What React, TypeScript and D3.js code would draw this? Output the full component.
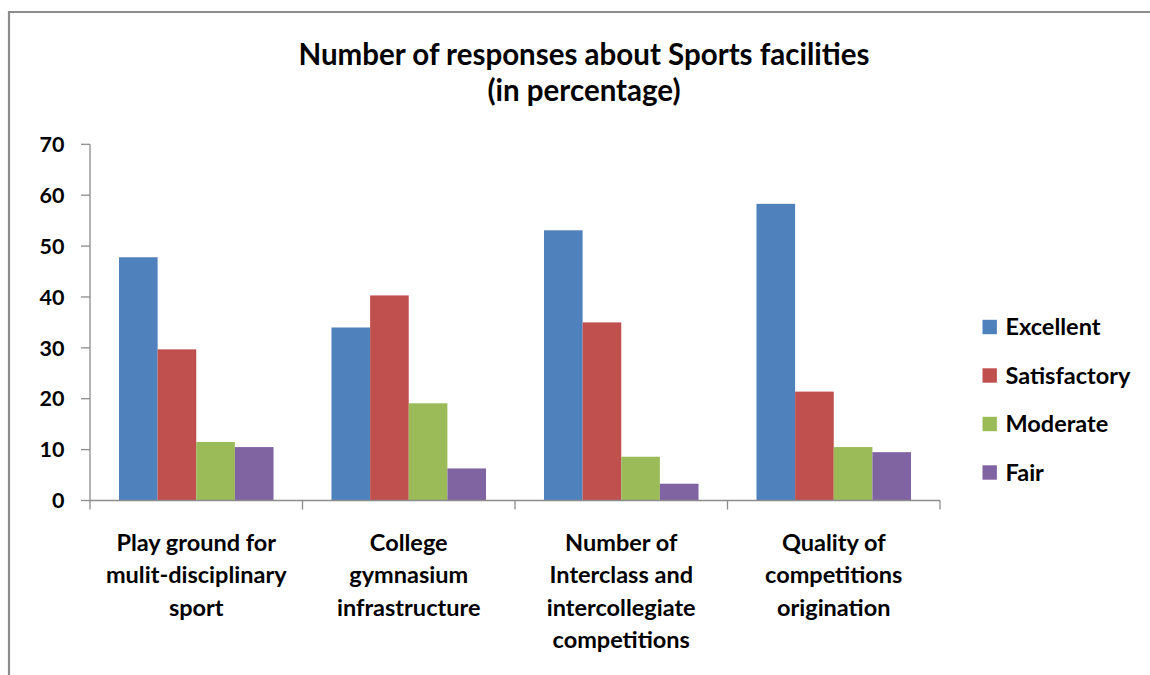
import React, { useEffect, useRef } from "react";
import * as d3 from "d3";

const categories: string[][] = [
  ["Play ground for", "mulit-disciplinary", "sport"],
  ["College", "gymnasium", "infrastructure"],
  ["Number of", "Interclass and", "intercollegiate", "competitions"],
  ["Quality of", "competitions", "origination"],
];
const seriesNames = ["Excellent", "Satisfactory", "Moderate", "Fair"];
const excellent = [47.8, 34.0, 53.1, 58.3];
const satisfactory = [29.7, 40.3, 35.0, 21.4];
const moderate = [11.5, 19.1, 8.6, 10.5];
const fair = [10.5, 6.3, 3.3, 9.5];
const seriesValues = [excellent, satisfactory, moderate, fair];
const colors = ["#4F81BD", "#C0504D", "#9BBB59", "#8064A2"];
const yTicks = [0, 10, 20, 30, 40, 50, 60, 70];
const titleLines = ["Number of responses about Sports facilities", "(in percentage)"];

const FONT = "Lato, 'Open Sans', sans-serif";

export default function App() {
  const ref = useRef<SVGSVGElement>(null);

  useEffect(() => {
    const svg = d3.select(ref.current);
    svg.selectAll("*").remove();

    const W = 1150, H = 675;
    const left = 90, right = 940, top = 144.3, bottom = 500.5;

    svg.append("rect").attr("x", 0).attr("y", 0).attr("width", W).attr("height", H).attr("fill", "#fff");
    // frame
    svg.append("path")
      .attr("d", `M9,${H + 5} L9,12 L${W + 5},12`)
      .attr("fill", "none").attr("stroke", "#8c8c8c").attr("stroke-width", 2.2);

    // title
    svg.append("g").selectAll("text").data(titleLines).join("text")
      .attr("x", 584).attr("y", (_d, i) => 65 + i * 36)
      .attr("text-anchor", "middle")
      .attr("font-family", FONT).attr("font-weight", "bold").attr("font-size", 29.5)
      .attr("fill", "#000")
      .text(d => d);

    const idx = categories.map((_c, i) => String(i));
    const x0 = d3.scaleBand<string>().domain(idx).range([left, right]).paddingInner(0).paddingOuter(0);
    const bw = x0.bandwidth();
    const gap = bw * 1.5 / 5.5;
    const x1 = d3.scaleBand<string>().domain(seriesNames).range([gap / 2, bw - gap / 2]).paddingInner(0);
    const y = d3.scaleLinear().domain([0, 70]).range([bottom, top]);

    // bars
    const groups = svg.append("g").selectAll("g").data(idx).join("g")
      .attr("transform", d => `translate(${x0(d)},0)`);
    groups.selectAll("rect")
      .data(ci => seriesNames.map((s, si) => ({ s, si, v: seriesValues[si][+ci] })))
      .join("rect")
      .attr("x", d => x1(d.s)!)
      .attr("width", x1.bandwidth())
      .attr("y", d => y(d.v))
      .attr("height", d => y(0) - y(d.v))
      .attr("fill", d => colors[d.si]);

    // y axis
    const yAxis = svg.append("g");
    yAxis.append("line").attr("x1", left).attr("x2", left).attr("y1", y(70)).attr("y2", y(0))
      .attr("stroke", "#8c8c8c").attr("stroke-width", 1.3);
    yAxis.selectAll("line.t").data(yTicks).join("line").attr("class", "t")
      .attr("x1", left - 9).attr("x2", left).attr("y1", d => y(d)).attr("y2", d => y(d))
      .attr("stroke", "#8c8c8c").attr("stroke-width", 1.3);
    yAxis.selectAll("text").data(yTicks).join("text")
      .attr("x", 64.5).attr("y", d => y(d)).attr("dy", "0.36em")
      .attr("text-anchor", "end")
      .attr("font-family", FONT).attr("font-weight", "bold").attr("font-size", 21.5)
      .attr("fill", "#000").text(d => d);

    // x axis
    const xAxis = svg.append("g");
    xAxis.append("line").attr("x1", left).attr("x2", right).attr("y1", y(0)).attr("y2", y(0))
      .attr("stroke", "#8c8c8c").attr("stroke-width", 1.3);
    const bounds = [...idx.map(d => x0(d)!), right];
    xAxis.selectAll("line.t").data(bounds).join("line").attr("class", "t")
      .attr("x1", d => d).attr("x2", d => d).attr("y1", y(0)).attr("y2", y(0) + 9)
      .attr("stroke", "#8c8c8c").attr("stroke-width", 1.3);
    const lbl = xAxis.selectAll("text").data(idx).join("text")
      .attr("text-anchor", "middle")
      .attr("font-family", FONT).attr("font-weight", "bold").attr("font-size", 23.5)
      .attr("fill", "#000");
    lbl.selectAll("tspan").data(ci => categories[+ci].map(t => ({ t, ci }))).join("tspan")
      .attr("x", d => x0(d.ci)! + bw / 2)
      .attr("y", (_d, i) => 551 + i * 32.3)
      .text(d => d.t);

    // legend
    const leg = svg.append("g").selectAll("g").data(seriesNames).join("g")
      .attr("transform", (_d, i) => `translate(982.5,${327 + i * 48.5})`);
    leg.append("rect").attr("x", 0).attr("y", -7.2).attr("width", 14.4).attr("height", 14.4)
      .attr("fill", (_d, i) => colors[i]);
    leg.append("text").attr("x", 23).attr("y", 0).attr("dy", "0.36em")
      .attr("font-family", FONT).attr("font-weight", "bold").attr("font-size", 23.5)
      .attr("fill", "#000").text(d => d);
  }, []);

  return (
    <svg ref={ref} width={1150} height={675}
      style={{ position: "absolute", left: 0, top: 0, display: "block" }} />
  );
}
